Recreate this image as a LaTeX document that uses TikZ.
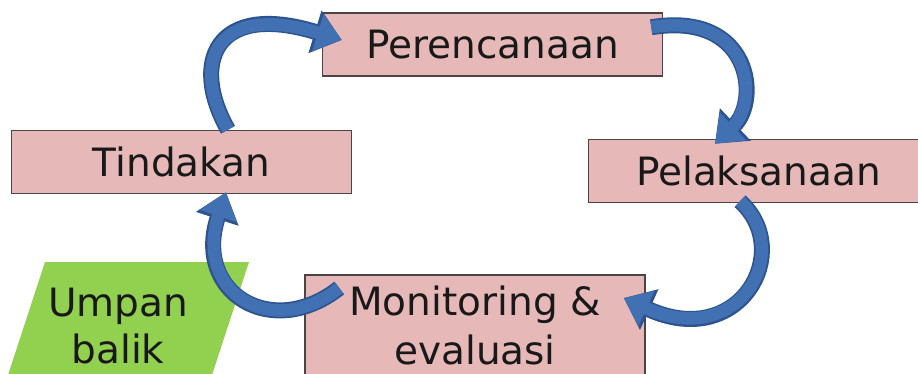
\documentclass[tikz,border=0pt]{standalone}
\usepackage{fontspec}
\setmainfont{DejaVu Sans}
\usetikzlibrary{arrows.meta}
\definecolor{boxpink}{HTML}{E6B9B8}
\definecolor{boxline}{HTML}{4A4444}
\definecolor{arrblue}{HTML}{4170B3}
\definecolor{arredge}{HTML}{2E5490}
\definecolor{fbgreen}{HTML}{92D050}
\begin{document}
\begin{tikzpicture}[x=1pt,y=1pt,
  box/.style={draw=boxline, line width=1.5pt, fill=boxpink, minimum width=340pt,
    minimum height=63pt, inner sep=0pt, font=\fontsize{39}{49}\selectfont,
    align=center, text=black!90},
  flowedge/.style={draw=arredge, line width=16pt, -{Triangle[length=28pt,width=43pt]}},
  flow/.style={draw=arrblue, line width=12.5pt, -{Triangle[length=25pt,width=37pt]}}]
\useasboundingbox (0,0) rectangle (918,373);
\clip (0,0) rectangle (918,373);
% feedback parallelogram
\fill[fbgreen] (45,111) -- (249,111) -- (212,-2) -- (8,-2) -- cycle;
\node[font=\fontsize{39}{47}\selectfont, align=center, text=black!90] (fb) at (118,47) {Umpan\\balik};
% boxes
\node[box] (per) at (492.5,328.5) {Perencanaan};
\node[box] (tin) at (181.5,211) {Tindakan};
\node[box] (pel) at (758.5,202) {Pelaksanaan};
\node[box, minimum height=100pt] (mon) at (475,48) {Monitoring \&\\evaluasi};
% arrows
\foreach \s in {flowedge,flow}{
\draw[\s] ([xshift=46.5pt]tin.north) .. controls (190,310) and (215,372) .. ([xshift=20pt,yshift=4.5pt]per.west);
\draw[\s] ([xshift=-12pt,yshift=-15pt]per.north east) .. controls (752,362) and (760,272) .. ([xshift=-43.5pt,yshift=-5pt]pel.north);
\draw[\s] ([xshift=-18.5pt,yshift=2pt]pel.south) .. controls (795,122) and (740,22) .. ([xshift=-22pt,yshift=27pt]mon.east);
\draw[\s] ([xshift=35pt,yshift=37pt]mon.west) .. controls (272,32) and (193,80) .. ([xshift=44.5pt,yshift=2pt]tin.south);
}
\end{tikzpicture}
\end{document}
